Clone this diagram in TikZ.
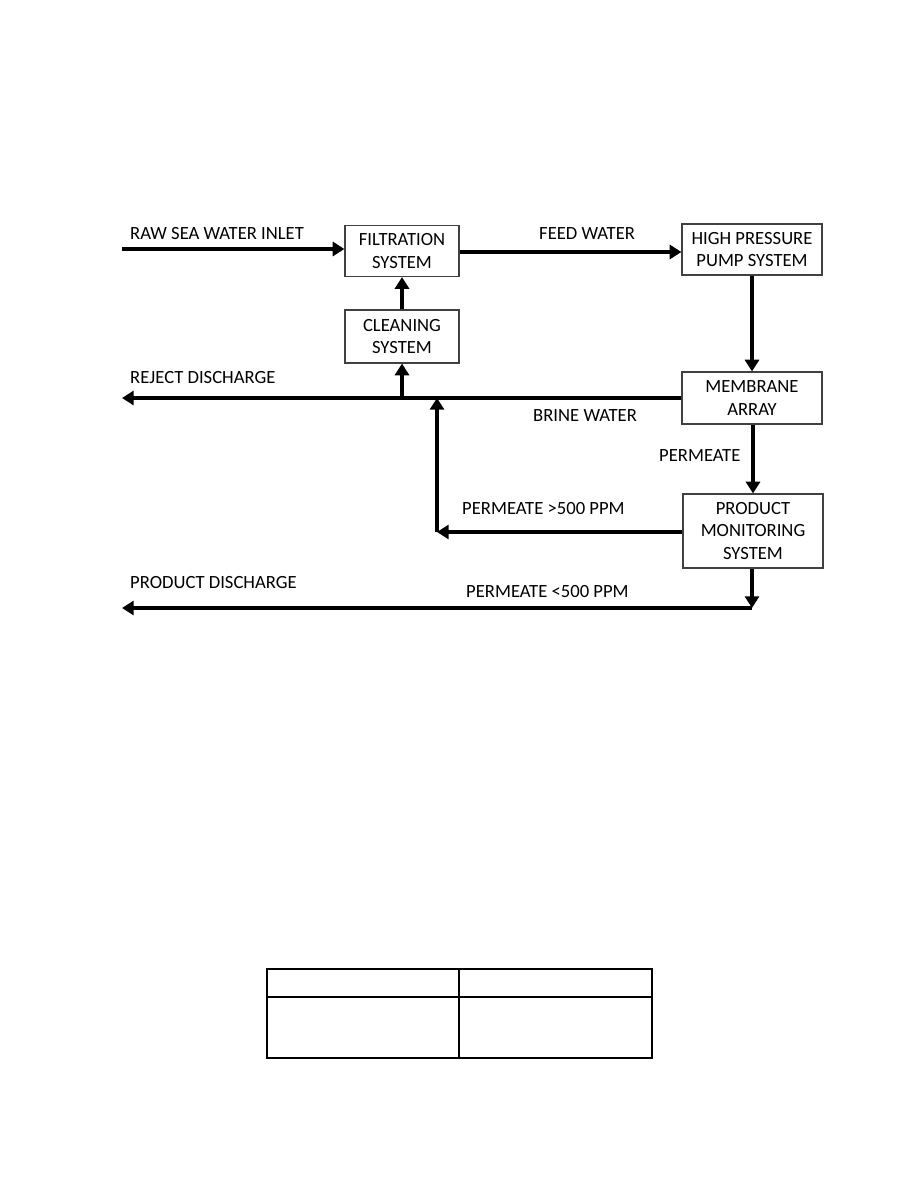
\documentclass[tikz,border=0pt]{standalone}
\usepackage{fontspec}
\setmainfont{Carlito}
\usepackage{tikz}
\usetikzlibrary{arrows.meta,positioning,calc}
\tikzset{unitbox/.style={rectangle, draw=black!75, line width=1pt, fill=white, align=center, inner sep=0pt, font=\fontsize{15.9}{19}\selectfont}, flow/.style={-{Triangle[length=10pt,width=12pt]}, line width=3.4pt, draw=black}, lbl/.style={anchor=base west, inner sep=0pt, font=\fontsize{15.9}{19}\selectfont}, tabline/.style={line width=1.1pt, draw=black}}

\begin{document}
\begin{tikzpicture}[x=0.03cm,y=-0.03cm]
\useasboundingbox (0,0) rectangle (918,1188);
% process units
\node[unitbox, minimum width=3.42cm, minimum height=1.53cm] (filt) at (402,251) {FILTRATION\\SYSTEM};
\node[unitbox, minimum width=3.42cm, minimum height=1.59cm] (clean) at (402,336.5) {CLEANING\\SYSTEM};
\node[unitbox, minimum width=4.2cm, minimum height=1.53cm] (hpp) at (752,249.5) {HIGH PRESSURE\\PUMP SYSTEM};
\node[unitbox, minimum width=4.2cm, minimum height=1.56cm] (memb) at (752,398) {MEMBRANE\\ARRAY};
\node[unitbox, minimum width=4.2cm, minimum height=2.22cm] (prodmon) at (753,531) {PRODUCT\\MONITORING\\SYSTEM};
% free ends and junctions
\coordinate (inlet) at (122,249);
\coordinate (rejend) at (122,398);
\coordinate (tocln) at (402,398);
\coordinate (tobrine) at (437,398);
\coordinate (retcorner) at (437,532);
\coordinate (pdcorner) at (752,608);
\coordinate (pdend) at (122,608);
% flows
\draw[flow] (inlet) -- (inlet -| filt.west);
\draw[flow] (filt.east |- 0,252) -- (hpp.west |- 0,252);
\draw[flow] (clean.north) -- (filt.south);
\draw[flow] (tocln) -- (clean.south);
\draw[flow] (memb.west) -- (rejend);
\draw[flow] (hpp.south) -- (memb.north);
\draw[flow] (memb.south -| prodmon.north) -- (prodmon.north);
\draw[flow] (prodmon.west |- retcorner) -- (retcorner);
\draw[flow] (retcorner) -- (tobrine);
\draw[flow] (prodmon.south -| pdcorner) -- (pdcorner);
\draw[flow] (pdcorner) -- (pdend);
% labels
\node[lbl] (lraw) at (130,240) {RAW SEA WATER INLET};
\node[lbl] (lfeed) at (539,240) {FEED WATER};
\node[lbl] (lrej) at (130,383) {REJECT DISCHARGE};
\node[lbl] (lbrine) at (533,421) {BRINE WATER};
\node[lbl] (lperm) at (659,461) {PERMEATE};
\node[lbl] (lhigh) at (462,514) {PERMEATE >500 PPM};
\node[lbl] (lpd) at (130,588) {PRODUCT DISCHARGE};
\node[lbl] (llow) at (466,597) {PERMEATE <500 PPM};
% empty table
\draw[tabline] (267,969) rectangle (652,1058);
\draw[tabline] (267,997) -- (652,997);
\draw[tabline] (459,969) -- (459,1058);
\end{tikzpicture}
\end{document}
